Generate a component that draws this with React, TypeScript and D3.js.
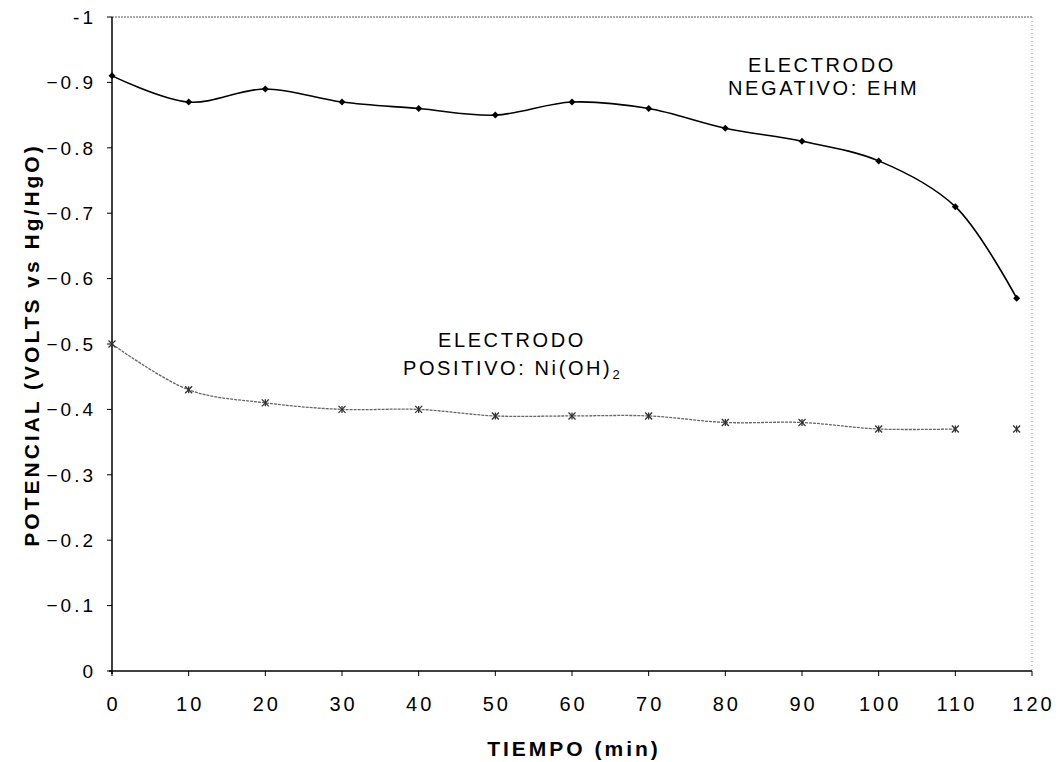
import React from "react";
import * as d3 from "d3";

const tiempo = [0, 10, 20, 30, 40, 50, 60, 70, 80, 90, 100, 110, 118];
const negativo = [-0.91, -0.87, -0.89, -0.87, -0.86, -0.85, -0.87, -0.86, -0.83, -0.81, -0.78, -0.71, -0.57];
const positivo = [-0.5, -0.43, -0.41, -0.4, -0.4, -0.39, -0.39, -0.39, -0.38, -0.38, -0.37, -0.37, -0.37];
const xTicks = [0, 10, 20, 30, 40, 50, 60, 70, 80, 90, 100, 110, 120];
const yTicks = [0, -0.1, -0.2, -0.3, -0.4, -0.5, -0.6, -0.7, -0.8, -0.9, -1];

const W = 1060;
const H = 762;
const L = 112, R = 1032, T = 17, B = 671;

export default function App() {
  const x = d3.scaleLinear().domain([0, 120]).range([L, R]);
  const y = d3.scaleLinear().domain([0, -1]).range([B, T]);
  const line = d3
    .line<[number, number]>()
    .x((d) => x(d[0]))
    .y((d) => y(d[1]))
    .curve(d3.curveCatmullRom.alpha(0.5));
  const negPts: [number, number][] = tiempo.map((t, i) => [t, negativo[i]]);
  const posPts: [number, number][] = tiempo.map((t, i) => [t, positivo[i]]);
  const posLinePts = posPts.slice(0, posPts.length - 1);
  const font = "'Liberation Sans', Arial, Helvetica, sans-serif";

  return (
    <svg width={W} height={H} style={{ position: "absolute", left: 0, top: 0, background: "#fff" }} fontFamily={font}>
      <rect x={0} y={0} width={W} height={H} fill="#fff" />
      {/* top & right frame (dotted, light) */}
      <line x1={L} y1={T} x2={R} y2={T} stroke="#555" strokeWidth={1} strokeDasharray="2,1" />
      <line x1={R} y1={T} x2={R} y2={B} stroke="#999" strokeWidth={1} strokeDasharray="1,3" />
      {/* axes */}
      <line x1={L} y1={T} x2={L} y2={B + 3} stroke="#000" strokeWidth={1.5} />
      <line x1={L - 3} y1={B} x2={R} y2={B} stroke="#000" strokeWidth={1.5} />
      {yTicks.map((v) => (
        <g key={"y" + v}>
          <line x1={L - 5} x2={L} y1={y(v)} y2={y(v)} stroke="#000" strokeWidth={1} />
          <text x={96} y={y(v)} dy="0.36em" textAnchor="end" fontSize={19} letterSpacing={3} fill="#000">
            {v === 0 ? "0" : v === -1 ? "-1" : d3.format(".1f")(v)}
          </text>
        </g>
      ))}
      {xTicks.map((v) => (
        <g key={"x" + v}>
          <line x1={x(v)} x2={x(v)} y1={B} y2={B + 5} stroke="#000" strokeWidth={1} />
          <text x={x(v) + 1.5} y={711} textAnchor="middle" fontSize={20} letterSpacing={3} fill="#000">
            {v}
          </text>
        </g>
      ))}
      <text x={574} y={756} textAnchor="middle" fontSize={21} letterSpacing={3} fontWeight="bold" fill="#000">
        TIEMPO (min)
      </text>
      <text
        transform={`translate(39, ${345}) rotate(-90)`}
        textAnchor="middle"
        fontSize={21}
        letterSpacing={3}
        fontWeight="bold"
        fill="#000"
      >
        POTENCIAL (VOLTS vs Hg/HgO)
      </text>

      {/* negative electrode */}
      <path d={line(negPts) || ""} fill="none" stroke="#000" strokeWidth={1.6} />
      {negPts.map((p, i) => (
        <path
          key={"n" + i}
          transform={`translate(${x(p[0])},${y(p[1])})`}
          d="M0,-3.5L3.5,0L0,3.5L-3.5,0Z"
          fill="#000"
        />
      ))}

      {/* positive electrode */}
      <path d={line(posLinePts) || ""} fill="none" stroke="#666" strokeWidth={1.3} strokeDasharray="3,1" />
      {posPts.map((p, i) => (
        <g key={"p" + i} transform={`translate(${x(p[0])},${y(p[1])})`} stroke="#333" strokeWidth={1.3}>
          <line x1={-3.5} y1={-3.5} x2={3.5} y2={3.5} />
          <line x1={-3.5} y1={3.5} x2={3.5} y2={-3.5} />
          <line x1={0} y1={-3.5} x2={0} y2={3.5} />
        </g>
      ))}

      {/* labels */}
      <text x={748} y={72} fontSize={20} letterSpacing={2.6} fill="#000">ELECTRODO</text>
      <text x={728} y={95} fontSize={20} letterSpacing={2.6} fill="#000">NEGATIVO: EHM</text>
      <text x={438} y={347} fontSize={20} letterSpacing={2.6} fill="#000">ELECTRODO</text>
      <text x={403} y={375} fontSize={20} letterSpacing={2.6} fill="#000">
        POSITIVO: Ni(OH)<tspan fontSize={13} dy={4}>2</tspan>
      </text>
    </svg>
  );
}
